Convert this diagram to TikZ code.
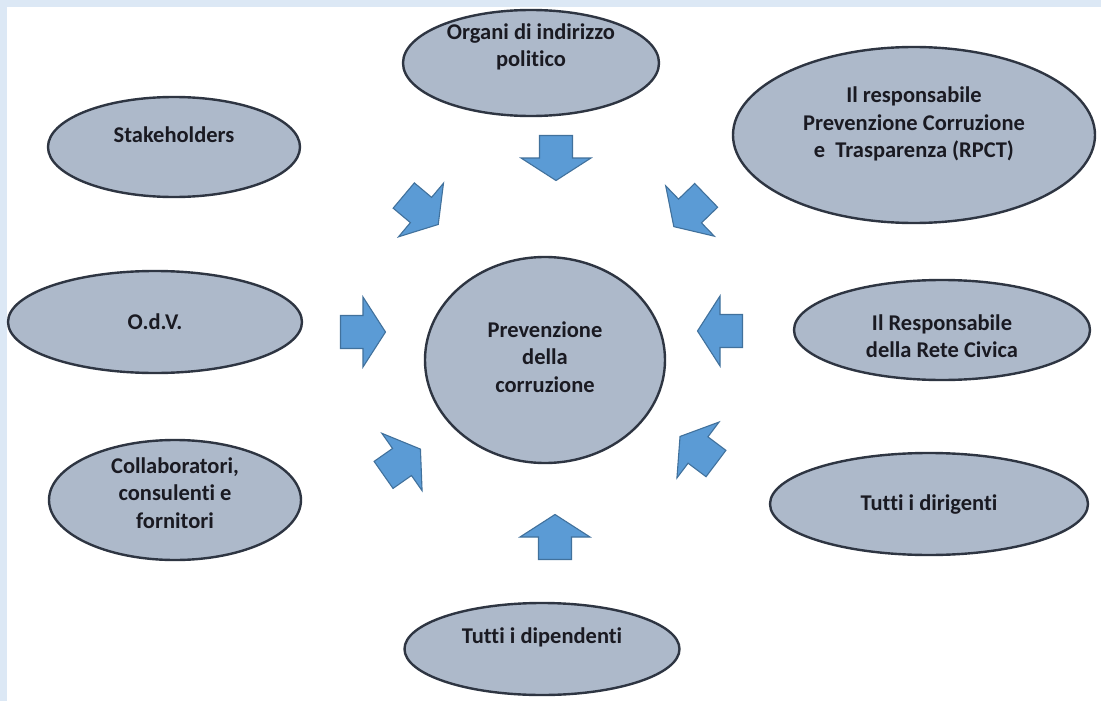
\documentclass[tikz,border=0pt]{standalone}
\usepackage{fontspec}
\setmainfont[Ligatures=NoCommon]{Carlito}
\usetikzlibrary{shapes.geometric}
\definecolor{frameblue}{HTML}{DCE8F5}
\definecolor{bubblefill}{HTML}{ADB9CA}
\definecolor{bubbleline}{HTML}{2E3542}
\definecolor{arrowfill}{HTML}{5B9BD5}
\definecolor{arrowline}{HTML}{41719C}
\definecolor{inktext}{HTML}{1A1A22}
\tikzset{
  bubble/.style={ellipse, draw=bubbleline, fill=bubblefill, line width=2.4pt, inner sep=0pt},
  lbl/.style={align=center, text=inktext, font=\bfseries\fontsize{22.5}{27.5}\selectfont, inner sep=0pt},
  blockarrow/.pic={
    \path[fill=arrowfill, draw=arrowline, line width=1.1pt, line join=miter]
      (-22.5,-16.5) -- (0,-16.5) -- (0,-35) -- (22.5,0) -- (0,35) -- (0,16.5) -- (-22.5,16.5) -- cycle;
  }
}
\begin{document}
\begin{tikzpicture}[x=1pt, y=-1pt]
% page frame
\fill[frameblue] (0,0) rectangle (1101,701);
\fill[white] (7,7) rectangle (1101,701);
\useasboundingbox (0,0) rectangle (1101,701);

% bubbles
\node[bubble, minimum width=256pt, minimum height=106pt] (organi) at (531,63) {};
\node[lbl] (organi-t) at (531,47) {Organi di indirizzo\\politico};

\node[bubble, minimum width=240pt, minimum height=206pt] (core) at (545,360) {};
\node[lbl] (core-t) at (545,357) {Prevenzione\\della\\corruzione};

\node[bubble, minimum width=362pt, minimum height=176pt] (rpct) at (914,135) {};
\node[lbl] (rpct-t) at (914,124) {Il responsabile\\Prevenzione Corruzione\\e\ \ Trasparenza (RPCT)};

\node[bubble, minimum width=252pt, minimum height=100pt] (stake) at (174,147) {};
\node[lbl] (stake-t) at (174,135) {Stakeholders};

\node[bubble, minimum width=294pt, minimum height=102pt] (odv) at (155,322) {};
\node[lbl] (odv-t) at (155,322) {O.d.V.};

\node[bubble, minimum width=296pt, minimum height=100pt] (rete) at (942,330) {};
\node[lbl] (rete-t) at (942,336) {Il Responsabile\\della Rete Civica};

\node[bubble, minimum width=252pt, minimum height=120pt] (collab) at (175,500) {};
\node[lbl] (collab-t) at (175,493) {Collaboratori,\\consulenti e\\fornitori};

\node[bubble, minimum width=318pt, minimum height=102pt] (dirig) at (929,504) {};
\node[lbl] (dirig-t) at (929,505) {Tutti i dirigenti};

\node[bubble, minimum width=275pt, minimum height=92pt] (dipen) at (542,649) {};
\node[lbl] (dipen-t) at (542,637) {Tutti i dipendenti};

% block arrows pointing at the core
\pic[rotate=-90]  (a-organi) at (556,158) {blockarrow};
\pic[rotate=90]   (a-dipen)  at (555,537) {blockarrow};
\pic[rotate=0]    (a-odv)    at (363,332) {blockarrow};
\pic[rotate=180]  (a-rete)   at (720,331) {blockarrow};
\pic[rotate=-40]  (a-stake)  at (421,210) {blockarrow};
\pic[rotate=-136] (a-rpct)   at (690,211) {blockarrow};
\pic[rotate=35]   (a-collab) at (402,462) {blockarrow};
\pic[rotate=143]  (a-dirig)  at (698,450) {blockarrow};
\end{tikzpicture}
\end{document}
